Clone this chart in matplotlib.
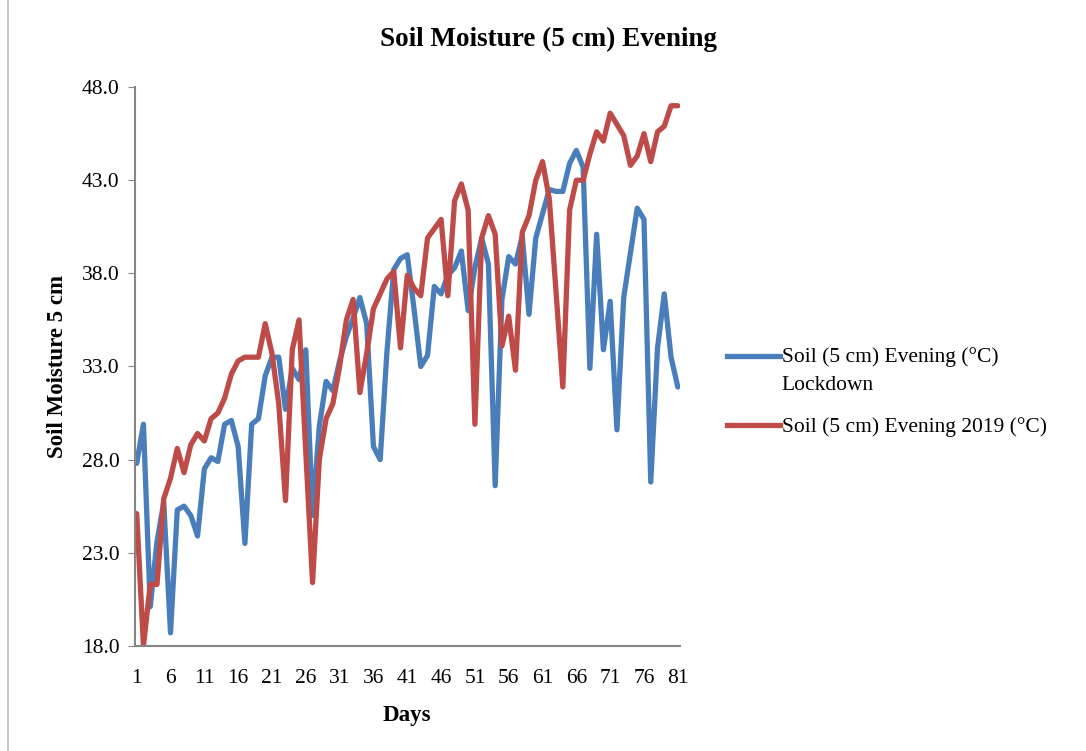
''' Soil moisture (5 cm) evening: lockdown vs 2019 '''

import matplotlib
matplotlib.use('Agg')
import matplotlib.pyplot as plt
from matplotlib.lines import Line2D

# Values, one per day (days 1..81)
days = list(range(1, 82))

lockdown = [27.8, 29.9, 20.1, 23.6, 25.7, 18.7, 25.3, 25.5, 25.0, 23.9,
            27.5, 28.1, 27.9, 29.9, 30.1, 28.7, 23.5, 29.9, 30.2, 32.5,
            33.5, 33.5, 30.7, 32.9, 32.3, 33.9, 25.0, 29.8, 32.2, 31.7,
            33.3, 34.6, 35.6, 36.7, 35.3, 28.7, 28.0, 33.8, 38.2, 38.8,
            39.0, 36.1, 33.0, 33.6, 37.3, 36.9, 37.9, 38.3, 39.2, 36.0,
            38.3, 39.9, 38.5, 26.6, 36.6, 38.9, 38.5, 40.0, 35.8, 39.9,
            41.2, 42.5, 42.4, 42.4, 43.9, 44.6, 43.7, 32.9, 40.1, 33.9,
            36.5, 29.6, 36.7, 39.1, 41.5, 40.9, 26.8, 34.0, 36.9, 33.5,
            31.9]

year_2019 = [25.1, 18.0, 21.3, 21.3, 25.9, 27.0, 28.6, 27.3, 28.8, 29.4,
             29.0, 30.2, 30.5, 31.3, 32.6, 33.3, 33.5, 33.5, 33.5, 35.3,
             33.7, 31.0, 25.8, 33.9, 35.5, 28.4, 21.4, 28.0, 30.2, 31.0,
             33.0, 35.5, 36.6, 31.6, 33.7, 36.1, 36.9, 37.7, 38.1, 34.0,
             37.9, 37.2, 36.8, 39.9, 40.4, 40.9, 36.8, 41.9, 42.8, 41.4,
             29.9, 39.9, 41.1, 40.1, 34.1, 35.7, 32.8, 40.2, 41.1, 43.0,
             44.0, 42.0, 37.0, 31.9, 41.4, 43.0, 43.0, 44.4, 45.6, 45.1,
             46.6, 46.0, 45.4, 43.8, 44.3, 45.5, 44.0, 45.6, 45.9, 47.0,
             47.0]

labels = ['Soil (5 cm) Evening (°C)', 'Soil (5 cm) Evening 2019 (°C)']
y_ticks = [18, 23, 28, 33, 38, 43, 48]
x_ticks = list(range(1, 82, 5))

BLUE = '#4A7EBB'
RED = '#BE4B48'
GREY = '#868686'

plt.rcParams['font.family'] = ['Liberation Serif', 'DejaVu Serif']

fig = plt.figure(figsize=(10.86, 7.51), dpi=100)
ax = fig.add_axes([0.124, 0.140, 0.502, 0.744])

ax.plot(days, lockdown, color=BLUE, lw=3.8, solid_joinstyle='round',
        solid_capstyle='round')
ax.plot(days, year_2019, color=RED, lw=3.8, solid_joinstyle='round',
        solid_capstyle='round')

ax.set_xlim(0.7, 81.3)
ax.set_ylim(18, 48)
ax.set_yticks(y_ticks)
ax.set_yticklabels(['%.1f' % v for v in y_ticks])
ax.set_xticks(x_ticks)
ax.set_xticklabels([str(v) for v in x_ticks])
ax.tick_params(axis='y', labelsize=15.5, length=5, color=GREY, pad=6)
ax.tick_params(axis='x', labelsize=15.5, length=0, pad=17)

for side in ('top', 'right'):
    ax.spines[side].set_visible(False)
for side in ('left', 'bottom'):
    ax.spines[side].set_color(GREY)
    ax.spines[side].set_linewidth(1.5)

ax.set_xlabel('Days', fontsize=16.5, fontweight='bold', labelpad=12)
ax.set_ylabel('Soil Moisture 5 cm', fontsize=16.5, fontweight='bold', labelpad=10)
fig.text(0.505, 0.947, 'Soil Moisture (5 cm) Evening', fontsize=19.5,
         fontweight='bold', ha='center', va='center')

# legend, drawn the way the spreadsheet lays it out (handle on first line)
fig.add_artist(Line2D([0.669, 0.718], [0.526, 0.526], transform=fig.transFigure,
                      color=BLUE, lw=3.8))
fig.text(0.720, 0.524, labels[0], fontsize=15.5, va='center')
fig.text(0.720, 0.487, 'Lockdown', fontsize=15.5, va='center')
fig.add_artist(Line2D([0.669, 0.718], [0.434, 0.434], transform=fig.transFigure,
                      color=RED, lw=3.8))
fig.text(0.720, 0.432, labels[1], fontsize=15.5, va='center')

# chart area border on the left
fig.add_artist(Line2D([0.007, 0.007], [0, 1], transform=fig.transFigure,
                      color='#BFBFBF', lw=1.2))

fig.savefig('out.png', dpi=100)
